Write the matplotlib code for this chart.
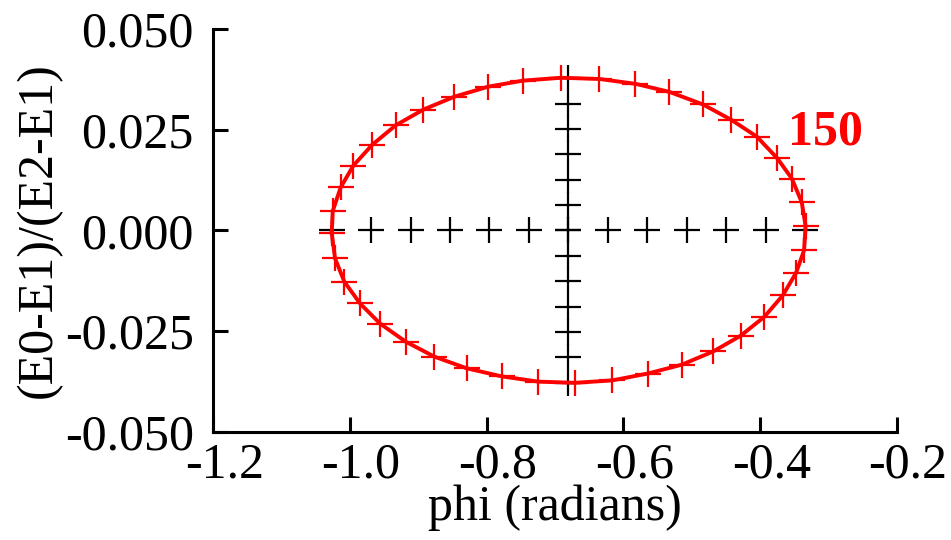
import matplotlib
matplotlib.use('Agg')
import matplotlib.pyplot as plt
import matplotlib.transforms as mtransforms

plt.rcParams['font.family'] = ['Liberation Serif', 'DejaVu Serif']
plt.rcParams['axes.unicode_minus'] = False

# red curve (phi, (E0-E1)/(E2-E1)), going round once
phi_red = [-1.0267, -1.0253, -1.0136, -0.9951, -0.9673, -0.9331, -0.8927, -0.8473,
           -0.7975, -0.7463, -0.6911, -0.6351, -0.5824, -0.5327, -0.4838, -0.4424,
           -0.4047, -0.3746, -0.3535, -0.3389, -0.3333, -0.3355, -0.3472, -0.3667,
           -0.3936, -0.4282, -0.4683, -0.5145, -0.5643, -0.6165, -0.6714, -0.7244,
           -0.7779, -0.8292, -0.8766, -0.9184, -0.9560, -0.9853, -1.0083, -1.0219,
           -1.0267]
ratio_red = [-0.0006, 0.0048, 0.0107, 0.0161, 0.0213, 0.0261, 0.0300, 0.0332,
             0.0357, 0.0372, 0.0379, 0.0376, 0.0364, 0.0344, 0.0313, 0.0275,
             0.0233, 0.0179, 0.0129, 0.0070, 0.0011, -0.0049, -0.0105, -0.0161,
             -0.0214, -0.0261, -0.0300, -0.0333, -0.0355, -0.0372, -0.0378, -0.0375,
             -0.0362, -0.0342, -0.0313, -0.0276, -0.0231, -0.0181, -0.0127, -0.0069,
             -0.0006]

# black crosses along the two axes of the ellipse
phi_h = [-1.0267, -0.9692, -0.9111, -0.8536, -0.7961, -0.7380, -0.6813,
         -0.6219, -0.5649, -0.5072, -0.4497, -0.3916, -0.3336]
ratio_h = [0.0] * len(phi_h)
ratio_v = [0.0379, 0.0315, 0.0252, 0.0189, 0.0125, 0.0063, 0.0,
           -0.0064, -0.0126, -0.0189, -0.0252, -0.0315, -0.0378]
phi_v = [-0.6813] * len(ratio_v)

x_ticks = [-1.2, -1.0, -0.8, -0.6, -0.4, -0.2]
y_ticks = [-0.050, -0.025, 0.000, 0.025, 0.050]

fig = plt.figure(figsize=(9.51, 5.40), dpi=100)
ax = fig.add_axes([0.2243, 0.2, 0.7186, 0.7463])

ax.plot(phi_h, ratio_h, linestyle='none', marker='+', markersize=19,
        markeredgewidth=1.6, color='black', zorder=2)
ax.plot(phi_v, ratio_v, linestyle='none', marker='+', markersize=19,
        markeredgewidth=1.6, color='black', zorder=2)
ax.plot(phi_red, ratio_red, '-', color='#ff0000', linewidth=2.8, zorder=3)
ax.plot(phi_red[:-1], ratio_red[:-1], linestyle='none', marker='+', markersize=19,
        markeredgewidth=1.6, color='#ff0000', zorder=3)

ax.text(-0.359, 0.0243, '150', color='#ff0000', fontsize=36, fontweight='bold',
        ha='left', va='center')

ax.set_xlim(-1.2, -0.2)
ax.set_ylim(-0.05, 0.05)
ax.set_xticks(x_ticks)
ax.set_yticks(y_ticks)
ax.set_xticklabels([f'{v:.1f}' for v in x_ticks])
ax.set_yticklabels([f'{v:.3f}' for v in y_ticks])

for s in ['top', 'right']:
    ax.spines[s].set_visible(False)
for s in ['left', 'bottom']:
    ax.spines[s].set_linewidth(2.2)

ax.tick_params(direction='in', length=11, width=2.2, labelsize=36)
ax.tick_params(axis='y', pad=14)
ax.tick_params(axis='x', pad=7)

# x tick labels sit a little right of their ticks in the original
shift = mtransforms.ScaledTranslation(8 / 72, 0, fig.dpi_scale_trans)
for lbl in ax.get_xticklabels():
    lbl.set_transform(lbl.get_transform() + shift)

ax.set_xlabel('phi (radians)', fontsize=36, labelpad=-3)
ax.set_ylabel('(E0-E1)/(E2-E1)', fontsize=36, labelpad=2)

fig.savefig('out.png', dpi=100)
